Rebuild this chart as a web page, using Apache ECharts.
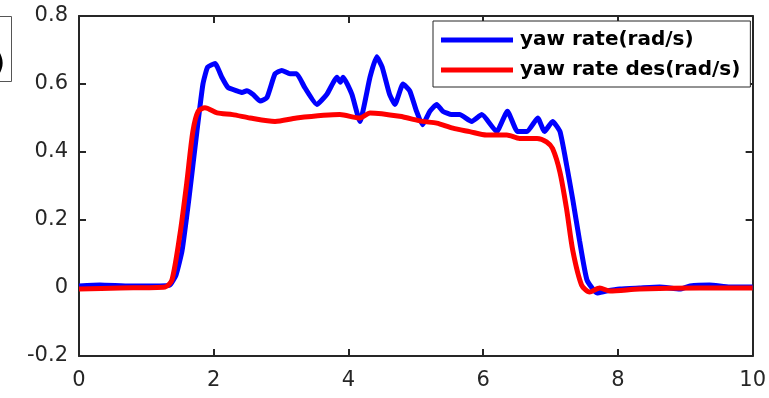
<!DOCTYPE html>
<html>
<head>
<meta charset="utf-8">
<script src="https://cdn.jsdelivr.net/npm/echarts@6/dist/echarts.min.js"></script>
<style>
  html, body { margin: 0; padding: 0; background: #fff; }
  #chart { width: 769px; height: 398px; }
</style>
</head>
<body>
<div id="chart"></div>
<script>
// Measured yaw rate (rad/s) against time (s)
const yawTime = [0, 0.31, 0.76, 1.20, 1.35, 1.44, 1.53, 1.63, 1.75, 1.84, 1.91, 2.02, 2.12, 2.21, 2.34, 2.42, 2.49, 2.58, 2.69, 2.79, 2.91, 3.01, 3.13, 3.23, 3.35, 3.53, 3.68, 3.83, 3.88, 3.92, 4.05, 4.17, 4.32, 4.42, 4.50, 4.61, 4.69, 4.81, 4.91, 5.01, 5.10, 5.21, 5.31, 5.40, 5.53, 5.65, 5.83, 5.98, 6.20, 6.36, 6.51, 6.65, 6.81, 6.91, 7.03, 7.14, 7.24, 7.33, 7.43, 7.54, 7.69, 7.83, 8.03, 8.32, 8.62, 8.92, 9.07, 9.36, 9.66, 10];
const yawRate = [0.006, 0.009, 0.006, 0.006, 0.009, 0.038, 0.11, 0.26, 0.46, 0.60, 0.65, 0.66, 0.62, 0.59, 0.58, 0.575, 0.58, 0.57, 0.55, 0.56, 0.63, 0.64, 0.63, 0.63, 0.59, 0.54, 0.57, 0.62, 0.605, 0.62, 0.57, 0.49, 0.62, 0.68, 0.65, 0.57, 0.54, 0.60, 0.58, 0.52, 0.48, 0.52, 0.54, 0.52, 0.51, 0.51, 0.49, 0.51, 0.46, 0.52, 0.46, 0.46, 0.50, 0.46, 0.49, 0.46, 0.36, 0.26, 0.14, 0.024, -0.015, -0.009, -0.003, 0, 0.003, -0.003, 0.006, 0.009, 0.003, 0.003];

// Desired yaw rate (rad/s) against time (s)
const desTime = [0, 0.61, 1.28, 1.38, 1.50, 1.60, 1.69, 1.77, 1.87, 2.05, 2.28, 2.54, 2.91, 3.23, 3.87, 4.17, 4.32, 4.76, 5.10, 5.31, 5.55, 5.80, 6.05, 6.35, 6.54, 6.80, 6.94, 7.03, 7.14, 7.24, 7.33, 7.46, 7.58, 7.73, 7.88, 8.32, 9.21, 10];
const desRate = [-0.003, 0, 0.003, 0.024, 0.16, 0.31, 0.46, 0.52, 0.53, 0.515, 0.51, 0.50, 0.49, 0.50, 0.51, 0.50, 0.515, 0.505, 0.49, 0.485, 0.47, 0.46, 0.45, 0.45, 0.44, 0.44, 0.43, 0.41, 0.34, 0.23, 0.11, 0.009, -0.012, 0, -0.009, -0.003, 0, 0];

const seriesNames = ['yaw rate(rad/s)', 'yaw rate des(rad/s)'];
const xTicks = { min: 0, max: 10, interval: 2 };
const yTicks = { min: -0.2, max: 0.8, interval: 0.2 };

const pairs = (xs, ys) => xs.map((x, i) => [x, ys[i]]);

const axisColor = '#262626';
const labelFont = { fontFamily: 'DejaVu Sans', fontSize: 21, color: axisColor };

const boxAxis = (extra) => Object.assign({
  type: 'value',
  axisLine: { show: true, onZero: false, lineStyle: { color: axisColor, width: 2 } },
  axisTick: { show: true, inside: true, length: 7, lineStyle: { color: axisColor, width: 2 } },
  splitLine: { show: false }
}, extra);

const chart = echarts.init(document.getElementById('chart'), null, { renderer: 'canvas' });

chart.setOption({
  animation: false,
  backgroundColor: '#ffffff',
  grid: { left: 79, right: 16, top: 16, bottom: 42, containLabel: false },
  xAxis: [
    boxAxis(Object.assign({}, xTicks, {
      position: 'bottom',
      axisLabel: Object.assign({ margin: 14 }, labelFont)
    })),
    boxAxis(Object.assign({}, xTicks, {
      position: 'top',
      axisLabel: { show: false }
    }))
  ],
  yAxis: [
    boxAxis(Object.assign({}, yTicks, {
      position: 'left',
      axisLabel: Object.assign({
        margin: 11,
        formatter: v => String(Number(v.toFixed(1)))
      }, labelFont)
    })),
    boxAxis(Object.assign({}, yTicks, {
      position: 'right',
      axisLabel: { show: false }
    }))
  ],
  legend: {
    left: 433,
    top: 21,
    orient: 'vertical',
    backgroundColor: '#ffffff',
    borderColor: axisColor,
    borderWidth: 1,
    borderRadius: 0,
    padding: [7, 10, 5, 8],
    itemWidth: 72,
    itemHeight: 5,
    itemGap: 6,
    textStyle: {
      fontFamily: 'DejaVu Sans',
      fontWeight: 'bold',
      fontSize: 20,
      lineHeight: 24,
      color: '#000',
      padding: [0, 0, 0, 2]
    },
    data: [
      { name: seriesNames[0], icon: 'rect' },
      { name: seriesNames[1], icon: 'rect' }
    ]
  },
  graphic: [
    {
      type: 'rect',
      shape: { x: -40, y: 16.5, width: 51.5, height: 65 },
      style: { fill: '#ffffff', stroke: '#555555', lineWidth: 1 }
    },
    {
      type: 'text',
      x: 5,
      y: 64,
      style: {
        text: '(b)',
        font: 'bold 26px "DejaVu Sans"',
        fill: '#000',
        textAlign: 'right',
        textVerticalAlign: 'middle'
      }
    }
  ],
  series: [
    {
      name: seriesNames[0],
      type: 'line',
      data: pairs(yawTime, yawRate),
      showSymbol: false,
      smooth: 0.15,
      color: '#0000ff',
      lineStyle: { color: '#0000ff', width: 5 },
      z: 2
    },
    {
      name: seriesNames[1],
      type: 'line',
      data: pairs(desTime, desRate),
      showSymbol: false,
      smooth: 0.25,
      color: '#ff0000',
      lineStyle: { color: '#ff0000', width: 5 },
      z: 3
    }
  ]
});
</script>
</body>
</html>
